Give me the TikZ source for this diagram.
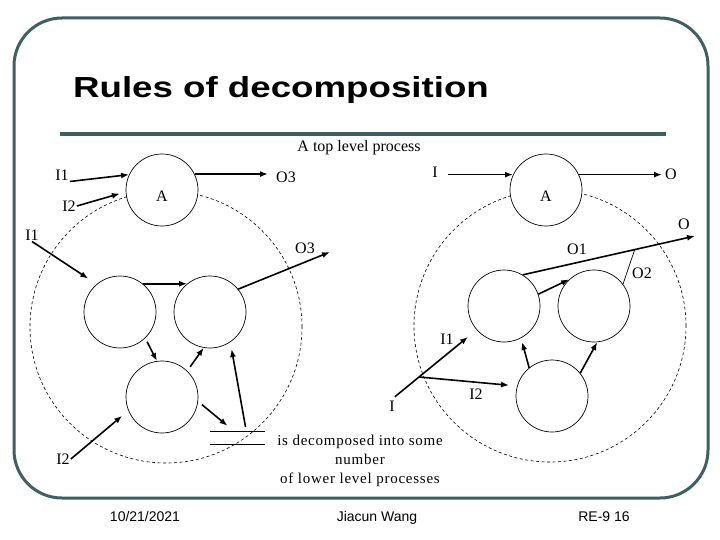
\documentclass[tikz,border=0pt]{standalone}
\usepackage{fontspec}
\setmainfont{Liberation Serif}
\newfontfamily\arialfont{Liberation Sans}
\usepackage{graphicx}
\usetikzlibrary{calc,arrows.meta}
\definecolor{slidegray}{RGB}{62,96,96}
\newcommand{\lblfont}{\fontsize{16}{19}\selectfont}
\newcommand{\footfont}{\arialfont\fontsize{14}{16}\selectfont}
\tikzset{
  proc/.style={circle, draw=black, line width=0.7pt, fill=white, minimum size=72pt, inner sep=0pt},
  bigproc/.style={circle, draw=black, line width=0.6pt, dash pattern=on 3pt off 2.5pt, minimum size=272pt, inner sep=0pt},
  lbl/.style={inner sep=1pt, font=\lblfont},
  flow/.style={line width=1.6pt, -{Latex[length=8pt,width=6pt]}},
  slideframe/.style={draw=slidegray, line width=3pt, rounded corners=48pt},
  foot/.style={font=\footfont, inner sep=0pt, anchor=base},
}

\begin{document}
\begin{tikzpicture}[x=1pt,y=-1pt]
  \useasboundingbox (0,0) rectangle (720,540);
  \draw[slideframe] (14,18) rectangle (708,498);
  \node[font=\arialfont\bfseries\fontsize{29}{32}\selectfont, inner sep=0pt, anchor=base] (title) at (281,98)
    {\scalebox{1.265}[1]{Rules of decomposition}};
  \draw[slidegray, line width=4pt] (60,134) -- (666,134);

  % top level process
  \node[lbl, anchor=base] (toplbl) at (359,152) {A top level process};
  \node[bigproc] (D1) at (166,327) {};
  \node[bigproc] (D2) at (550,326) {};
  \node[proc, label={[lbl, yshift=-6pt]center:A}] (A1) at (162,190) {};
  \node[proc, label={[lbl, yshift=-6pt]center:A}] (A2) at (546,190) {};

  \node[lbl] (I1a) at (62,175) {I1};
  \node[lbl] (I2a) at (69,206) {I2};
  \node[lbl] (O3a) at (286,177) {O3};
  \draw[flow] (I1a.south east) -- (A1.155);
  \draw[flow, shorten >=6pt] (I2a.east) -- (A1.183);
  \draw[flow, shorten >=7pt] (A1.26) -- (A1.26 -| O3a.west);

  \node[lbl] (Ia) at (435,172) {I};
  \node[lbl] (Oa) at (671,174) {O};
  \draw[flow, shorten <=9pt] (A2.155 -| Ia.east) -- (A2.155);
  \draw[flow, shorten >=2pt] (A2.25) -- (A2.25 -| Oa.west);

  % left: lower level processes
  \node[proc] (L1) at (120,312) {};
  \node[proc] (L2) at (210,312) {};
  \node[proc] (L3) at (162,397) {};
  \node[lbl] (I1b) at (32,235) {I1};
  \node[lbl] (O3b) at (305,248) {O3};
  \node[lbl] (I2b) at (63,459) {I2};
  \coordinate (O3end) at (330,252);
  \node[inner sep=0pt, minimum width=55pt, minimum height=12pt] (store) at (237.5,438) {};
  \draw[line width=0.7pt] (store.north west) -- (store.north east) (store.south west) -- (store.south east);
  \draw[flow, shorten >=10pt] (I1b.south) -- (L1.130);
  \draw[flow] (L1.51) -- (L2.129);
  \draw[flow] (L2.39) -- (O3end);
  \draw[flow, shorten <=4pt] (L1.-46) -- (L3.98);
  \draw[flow, shorten <=5pt] (L3.46) -- (L2.-100);
  \draw[flow, shorten <=5pt] (L3.-7) -- ($(store.north)+(-10,-6)$);
  \draw[flow, shorten >=7pt] ($(store.north)+(8,-5)$) -- (L2.-56);
  \draw[flow, shorten >=8pt] (I2b.east) -- (L3.-158);

  % right: lower level processes
  \node[proc] (R1) at (504,306) {};
  \node[proc] (R2) at (594,306) {};
  \node[proc] (R3) at (552,396) {};
  \node[lbl] (Ob) at (684,224) {O};
  \node[lbl] (O1) at (577,249) {O1};
  \node[lbl] (O2) at (642,273) {O2};
  \node[lbl] (Ic) at (392,406) {I};
  \node[lbl] (I1c) at (447,339) {I1};
  \node[lbl] (I2c) at (476,394) {I2};
  \coordinate (Oend) at (695,236);
  \coordinate (Ijoin) at (419,377);
  \draw[flow] (R1.19) -- (R2.133);
  \draw[flow] (R1.59) -- (Oend);
  \coordinate (O2pt) at ($(R1.59)!0.65!(Oend)$);
  \draw[line width=0.7pt] (O2pt) -- (R2.37);
  \draw[flow, shorten >=11pt] ($(Ijoin)!-0.42!(R1.-139)$) -- (R1.-139);
  \draw[flow, shorten >=8pt] (Ijoin) -- (R3.164);
  \draw[flow, shorten >=4pt] (R3.129) -- (R1.-62);
  \draw[flow] (R3.39) -- (R2.-85);

  \node[font=\fontsize{15}{19}\selectfont\addfontfeature{LetterSpace=5}, align=center, inner sep=0pt] (note) at (360,461)
    {is decomposed into some\\number\\of lower level processes};

  \node[foot] (date) at (145,521) {10/21/2021};
  \node[foot] (author) at (377,521) {Jiacun Wang};
  \node[foot] (slide) at (604,521) {RE-9 16};
\end{tikzpicture}
\end{document}
